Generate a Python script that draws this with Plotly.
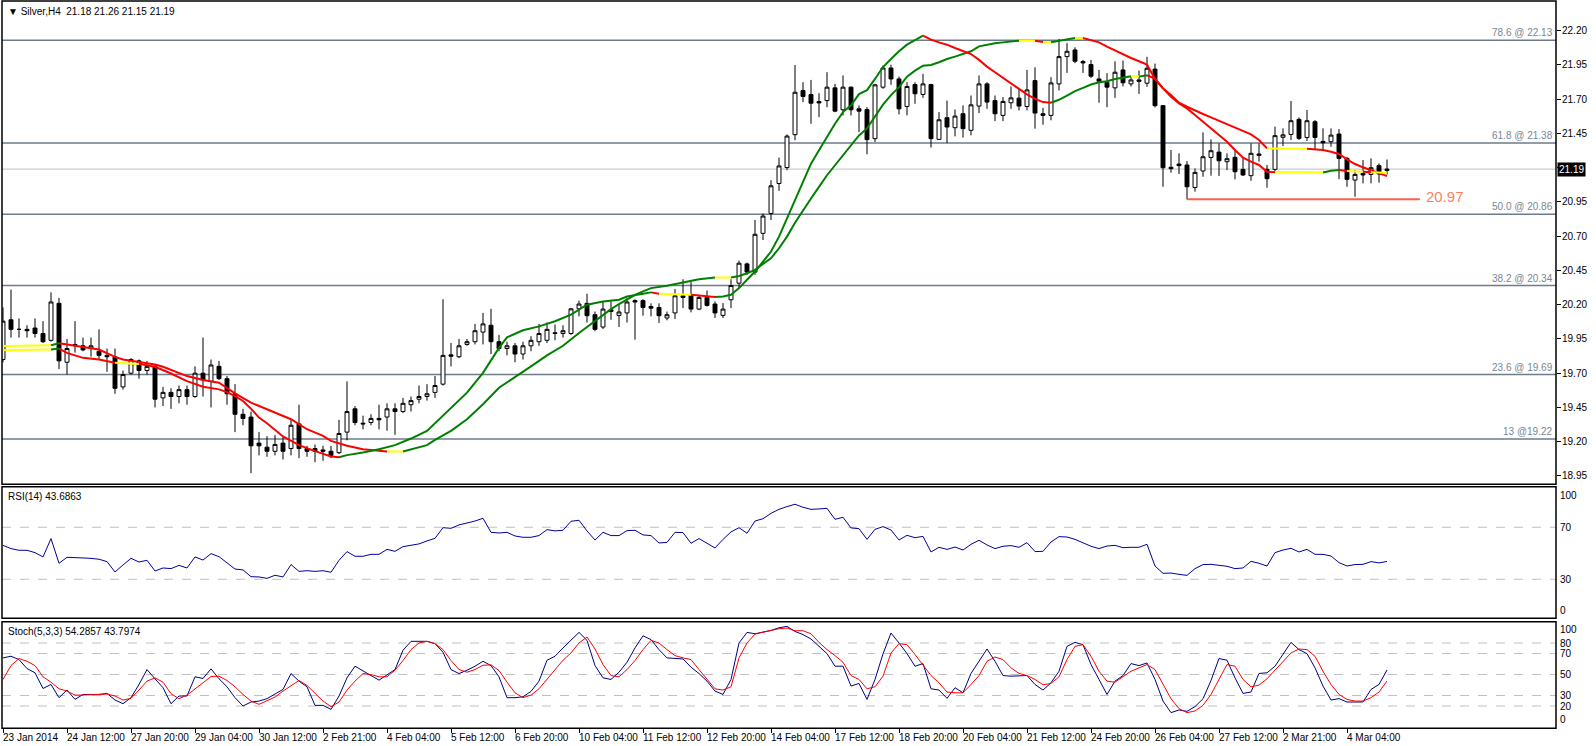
import plotly.graph_objects as go

W, H = 1596, 746

# ---------------- data ----------------
opens = [19.80,20.09,20.02,20.02,20.03,19.99,19.94,20.21,19.78,19.91,19.90,19.88,19.86,19.83,19.82,19.60,19.70,19.79,19.72,19.75,
         19.52,19.56,19.53,19.58,19.53,19.70,19.64,19.75,19.66,19.55,19.40,19.38,19.19,19.16,19.13,19.19,19.15,19.33,19.15,19.15,
         19.14,19.13,19.12,19.27,19.44,19.335,19.34,19.37,19.38,19.44,19.42,19.47,19.51,19.53,19.56,19.62,19.834,19.82,19.91,19.93,
         20.00,20.05,19.93,19.88,19.90,19.84,19.90,19.93,19.94,19.995,19.99,19.99,20.17,20.21,20.127,20.037,20.163,20.122,20.14,20.23,
         20.23,20.187,20.18,20.103,20.14,20.265,20.27,20.168,20.255,20.205,20.122,20.236,20.357,20.498,20.438,20.721,20.866,21.085,21.201,21.441,
         21.763,21.734,21.683,21.69,21.783,21.623,21.788,21.63,21.625,21.412,21.788,21.928,21.848,21.647,21.807,21.735,21.807,21.407,21.565,21.492,
         21.594,21.473,21.65,21.812,21.69,21.582,21.674,21.708,21.647,21.836,21.594,21.582,21.812,22.011,22.06,21.975,21.953,21.848,21.824,21.783,
         21.914,21.812,21.841,21.817,21.92,21.653,21.203,21.227,21.22,21.056,21.176,21.275,21.314,21.244,21.276,21.188,21.142,21.29,21.188,21.188,
         21.422,21.443,21.553,21.421,21.536,21.392,21.39,21.446,21.268,21.11,21.159,21.151,21.215,21.18]
highs = [20.18,20.31,20.10,20.05,20.10,20.08,20.29,20.25,19.95,20.08,19.96,19.96,20.02,19.88,19.88,19.72,19.81,19.80,19.79,19.76,
         19.60,19.59,19.61,19.61,19.75,19.96,19.80,19.79,19.68,19.62,19.44,19.42,19.27,19.24,19.25,19.24,19.36,19.47,19.17,19.18,
         19.17,19.17,19.36,19.64,19.46,19.39,19.40,19.47,19.48,19.48,19.52,19.53,19.61,19.62,19.68,20.24,19.92,19.95,19.95,20.06,
         20.14,20.17,19.98,19.93,19.92,19.93,19.97,20.06,20.07,20.055,20.05,20.175,20.23,20.28,20.15,20.224,20.224,20.20,20.25,20.24,
         20.24,20.21,20.21,20.15,20.314,20.386,20.365,20.27,20.304,20.224,20.212,20.386,20.522,20.507,20.818,20.866,21.109,21.274,21.443,21.95,
         21.824,21.841,21.744,21.897,21.812,21.873,21.793,21.654,21.642,21.812,21.945,21.952,21.865,21.824,21.824,21.885,21.812,21.606,21.69,21.625,
         21.655,21.727,21.873,21.824,21.727,21.715,21.793,21.776,21.914,21.933,21.637,21.861,22.14,22.11,22.079,21.987,21.987,21.914,21.89,21.977,
         21.982,21.865,21.909,22.01,21.96,21.657,21.329,21.305,21.249,21.195,21.458,21.407,21.378,21.305,21.329,21.276,21.378,21.378,21.22,21.50,
         21.487,21.687,21.567,21.621,21.548,21.487,21.487,21.482,21.28,21.183,21.256,21.268,21.232,21.26]
lows = [19.78,19.96,19.96,19.96,19.96,19.92,19.93,19.73,19.69,19.85,19.86,19.82,19.80,19.71,19.55,19.58,19.69,19.66,19.69,19.45,
        19.46,19.44,19.48,19.47,19.52,19.53,19.45,19.65,19.47,19.27,19.32,18.97,19.10,19.09,19.10,19.07,19.10,19.08,19.09,19.05,
        19.06,19.08,19.11,19.21,19.32,19.29,19.32,19.29,19.28,19.25,19.41,19.42,19.48,19.50,19.52,19.61,19.75,19.81,19.90,19.91,
        19.91,19.84,19.86,19.83,19.78,19.80,19.86,19.90,19.92,19.94,19.96,19.98,20.115,20.07,20.006,20.023,20.09,20.037,20.07,19.945,
        20.12,20.115,20.067,20.086,20.095,20.175,20.144,20.16,20.187,20.103,20.103,20.175,20.32,20.418,20.418,20.672,20.818,21.031,21.182,21.40,
        21.679,21.521,21.569,21.642,21.606,21.581,21.581,21.46,21.298,21.388,21.776,21.805,21.589,21.582,21.667,21.71,21.347,21.405,21.38,21.429,
        21.42,21.436,21.599,21.63,21.54,21.54,21.63,21.618,21.618,21.485,21.514,21.546,21.764,21.892,21.963,21.892,21.856,21.674,21.642,21.71,
        21.793,21.793,21.739,21.79,21.64,21.061,21.164,21.154,20.969,21.025,21.134,21.142,21.139,21.183,21.115,21.139,21.105,21.244,21.054,21.171,
        21.358,21.402,21.402,21.395,21.329,21.329,21.353,21.117,21.061,20.988,21.086,21.086,21.091,21.15]
closes = [20.08,20.02,20.02,20.01,19.99,19.93,20.22,19.79,19.88,19.90,19.87,19.90,19.83,19.82,19.59,19.69,19.80,19.72,19.75,19.51,
          19.56,19.53,19.58,19.53,19.70,19.65,19.76,19.66,19.55,19.40,19.37,19.17,19.17,19.13,19.18,19.13,19.32,19.15,19.13,19.13,
          19.13,19.10,19.26,19.42,19.34,19.33,19.37,19.36,19.44,19.42,19.48,19.50,19.53,19.55,19.61,19.83,19.824,19.90,19.93,20.01,
          20.06,19.93,19.88,19.90,19.84,19.90,19.94,19.99,20.02,19.99,20.01,20.17,20.205,20.12,20.02,20.168,20.15,20.147,20.22,20.22,
          20.18,20.175,20.12,20.127,20.265,20.253,20.168,20.253,20.195,20.14,20.168,20.34,20.503,20.438,20.714,20.847,21.068,21.213,21.431,21.751,
          21.72,21.671,21.673,21.788,21.613,21.788,21.623,21.613,21.405,21.805,21.928,21.848,21.63,21.793,21.74,21.812,21.412,21.55,21.497,21.577,
          21.485,21.659,21.812,21.679,21.594,21.684,21.71,21.65,21.768,21.599,21.582,21.819,22.011,22.05,21.977,21.965,21.868,21.831,21.788,21.897,
          21.82,21.841,21.831,21.926,21.653,21.20,21.193,21.215,21.061,21.166,21.28,21.324,21.251,21.266,21.171,21.147,21.305,21.30,21.12,21.434,
          21.44,21.543,21.414,21.543,21.421,21.382,21.438,21.268,21.115,21.151,21.147,21.20,21.154,21.19]

fast_bars = [0,6,7,8,10,12,14,17,19,21,23,25,27,28,29,30,31,32,33,35,37,39,41,42,43,45,47,49,51,53,54,56,58,60,62,
             63,65,67,69,71,72,73,75,77,78,79,80,81,82,83,84,85,86,87,88,89,90,91,92,93,94,95,96,97,98,99,100,101,102,103,104,105,106,
             107,108,109,110,111,112,113,114,115,116,117,118,119,120,121,122,123,124,125,126,127,128,129,130,131,132,133,134,135,136,137,138,139,140,141,142,143,
             144,145,146,147,148,149,150,151,152,153,154,155,156,157,158,159,160,161,162,163,164,165,166,167,168,169,170,171,172,173]
fast_vals = [19.868,19.873,19.88,19.848,19.812,19.80,19.776,19.768,19.747,19.698,19.642,19.601,19.582,19.562,19.533,19.497,19.441,19.376,19.335,19.238,19.175,19.131,19.092,19.087,19.102,19.121,19.145,19.175,19.223,19.279,19.335,19.448,19.558,19.703,19.885,
             19.962,20.013,20.042,20.079,20.127,20.163,20.20,20.224,20.236,20.26,20.272,20.28,20.29,20.28,20.277,20.277,20.274,20.272,20.267,20.26,20.256,20.26,20.272,20.321,20.382,20.442,20.515,20.588,20.697,20.83,20.963,21.109,21.23,21.327,21.424,21.521,21.606,21.655,
             21.737,21.766,21.848,21.935,21.994,22.05,22.098,22.132,22.164,22.135,22.115,22.098,22.074,22.05,22.03,21.987,21.938,21.897,21.856,21.812,21.776,21.735,21.703,21.679,21.674,21.696,21.727,21.759,21.783,21.807,21.824,21.831,21.848,21.86,21.868,21.865,21.875,
             21.85,21.779,21.718,21.67,21.633,21.585,21.536,21.487,21.439,21.39,21.329,21.273,21.244,21.22,21.171,21.166,21.164,21.166,21.166,21.164,21.164,21.165,21.178,21.183,21.176,21.174,21.171,21.166,21.164,21.164]

slow_bars = [0,6,7,8,12,14,15,19,20,23,25,27,29,31,34,36,38,40,41,43,45,48,50,51,53,54,56,58,60,62,64,66,68,70,
             72,73,74,75,76,77,78,79,80,81,83,85,87,89,91,92,93,94,95,96,97,98,99,100,101,102,103,104,105,106,
             107,108,109,110,111,112,113,114,115,116,117,118,119,120,121,122,123,124,125,126,127,128,129,130,131,132,133,134,135,136,137,138,139,140,141,142,143,
             144,145,146,147,148,149,150,151,152,153,154,155,156,157,158,159,160,161,162,163,164,165,166,167,168,169,170,171,172,173]
slow_vals = [19.899,19.904,19.919,19.909,19.873,19.819,19.80,19.764,19.747,19.679,19.65,19.63,19.553,19.485,19.412,19.364,19.291,19.242,19.206,19.17,19.145,19.128,19.128,19.145,19.175,19.213,19.279,19.364,19.473,19.594,19.67,19.75,19.83,19.90,
             19.994,20.037,20.083,20.127,20.168,20.205,20.241,20.272,20.297,20.321,20.338,20.362,20.386,20.398,20.398,20.41,20.43,20.454,20.498,20.539,20.612,20.697,20.798,20.891,20.975,21.06,21.145,21.218,21.291,21.366,
             21.436,21.487,21.578,21.66,21.73,21.788,21.865,21.909,21.945,21.95,21.97,21.994,22.011,22.03,22.05,22.086,22.098,22.108,22.115,22.122,22.127,22.128,22.127,22.118,22.116,22.127,22.139,22.147,22.147,22.132,22.115,22.084,22.055,22.026,22.001,21.977,21.953,
             21.847,21.779,21.73,21.675,21.645,21.616,21.592,21.567,21.543,21.519,21.492,21.468,21.443,21.402,21.341,21.339,21.338,21.339,21.338,21.338,21.334,21.329,21.317,21.30,21.261,21.227,21.203,21.183,21.159,21.139]

rsi = [56.1,53.6,52.3,52.3,50.5,47.2,61.3,42.3,46.9,46.9,46.4,46.1,45.4,43.6,35.6,41.0,46.1,43.3,44.6,36.4,
       38.7,38.2,40.7,38.7,47.2,44.8,49.7,47.4,42.3,37.9,37.2,32.0,31.8,30.7,33.1,31.8,41.3,36.1,36.6,36.1,
       36.6,35.4,44.6,51.3,47.7,47.7,49.2,49.2,53.0,51.5,55.1,56.4,57.2,59.5,61.5,69.7,69.2,71.8,73.1,74.8,
       76.9,66.1,65.6,66.1,63.3,62.3,62.3,63.6,68.2,67.2,67.7,74.6,75.4,67.2,60.2,66.1,63.6,63.6,67.4,67.7,
       64.1,63.6,57.9,58.4,66.1,65.9,57.7,61.3,57.7,54.1,60.7,66.4,69.7,65.4,74.8,76.6,80.7,83.8,85.9,87.7,
       85.4,83.8,84.1,84.6,76.1,77.7,69.5,68.9,60.7,68.4,70.5,67.9,60.2,63.8,62.0,63.0,51.0,54.6,53.0,54.8,
       52.5,56.9,60.0,56.4,53.6,55.4,55.9,54.6,58.2,51.3,51.5,58.7,62.8,62.5,60.7,58.2,55.4,53.6,55.6,56.1,
       54.3,54.6,54.6,56.9,40.2,34.6,34.8,33.8,33.0,38.2,41.3,41.5,40.7,40.0,38.2,38.7,43.8,42.3,40.2,50.5,
       52.5,53.8,51.0,53.0,49.2,49.2,47.9,42.8,40.2,41.3,41.5,43.6,42.6,43.7]

stoch_k = [65.8,67.4,64.2,55.7,51.6,36.7,40.5,27.9,35.2,26.3,31.0,31.0,31.0,32.0,25.7,22.2,27.9,40.5,54.7,45.9,
           37.4,22.2,29.5,29.5,47.8,46.2,55.4,45.9,38.3,27.9,20.0,23.8,24.7,27.0,31.0,35.8,50.9,43.7,38.3,20.6,
           20.6,16.8,29.5,46.8,57.9,53.8,49.0,44.6,49.7,54.7,73.1,81.6,81.6,81.6,79.4,71.2,54.7,50.9,54.1,57.9,
           62.6,58.5,47.8,27.9,27.9,28.8,33.9,43.7,63.6,67.4,75.3,83.2,90.1,82.5,58.5,46.8,45.3,52.2,61.7,75.3,
           86.9,83.2,73.7,65.8,65.2,64.8,57.0,50.9,43.7,34.2,31.0,45.3,80.0,90.1,88.8,90.1,92.0,94.5,95.8,91.0,
           88.0,83.8,76.8,69.9,57.9,57.9,39.0,41.5,26.3,45.3,69.6,89.5,80.0,69.9,57.9,60.4,36.4,35.2,27.3,37.4,
           32.6,51.0,62.6,74.3,62.6,49.0,48.4,49.0,49.0,40.5,35.2,42.1,53.1,76.8,80.6,78.4,59.5,45.3,31.0,43.7,
           49.0,60.4,58.5,61.0,45.3,24.7,13.7,16.2,14.9,19.4,26.9,44.3,65.2,63.6,46.8,32.0,33.3,51.0,51.6,57.9,
           69.9,80.6,73.7,69.9,56.3,39.0,25.7,27.0,23.8,23.8,23.8,35.8,40.5,54.3]
stoch_d = [45.3,58.5,65.2,62.6,58.5,47.8,42.7,36.4,34.2,30.4,30.4,31.0,31.0,31.4,29.5,25.7,27.3,35.2,43.7,46.8,
           42.7,31.7,27.0,30.4,36.7,42.1,48.1,48.4,44.3,38.3,31.0,24.7,21.6,24.7,28.5,34.2,39.6,44.3,39.6,31.7,
           24.7,19.4,23.8,35.2,43.7,50.9,50.0,47.8,47.8,54.1,63.3,73.7,80.0,81.6,79.4,73.7,63.3,54.7,52.2,54.7,
           58.8,59.2,53.8,42.7,32.6,27.9,30.4,36.4,45.3,54.7,63.6,70.5,80.0,85.7,74.3,59.5,49.0,47.8,54.7,63.3,
           73.7,82.5,80.0,73.7,68.0,65.8,64.2,54.7,45.3,36.4,35.2,38.3,65.8,80.0,88.5,90.1,92.0,93.6,94.2,91.7,
           91.7,88.8,80.6,73.7,68.0,61.7,49.0,45.3,36.4,38.3,48.4,70.5,79.4,78.4,69.0,59.5,49.0,42.1,33.3,32.6,
           32.6,40.5,49.0,62.6,66.7,64.2,56.3,51.0,49.0,45.3,40.2,41.5,47.8,64.2,76.8,78.4,67.4,53.1,43.7,42.7,
           47.8,53.1,56.3,59.5,54.7,40.5,26.9,17.5,13.7,15.3,20.6,31.0,45.9,59.5,57.9,45.3,38.3,39.9,45.9,54.1,
           62.6,70.5,74.3,73.7,67.4,53.1,40.5,31.0,26.3,24.7,24.7,27.9,33.3,43.8]

price_ticks = [22.20,21.95,21.70,21.45,21.20,20.95,20.70,20.45,20.20,19.95,19.70,19.45,19.20,18.95]
price_labels = ["22.20","21.95","21.70","21.45","","20.95","20.70","20.45","20.20","19.95","19.70","19.45","19.20","18.95"]
fib_levels = [22.13,21.38,20.86,20.34,19.69,19.22]
fib_texts = ["78.6 @ 22.13","61.8 @ 21.38","50.0 @ 20.86","38.2 @ 20.34","23.6 @ 19.69","13 @19.22"]
last_price = 21.19
support_level = 20.97
support_start, support_end = 148, 177.1
rsi_levels = [70, 30]
rsi_labels = [100, 70, 30, 0]
stoch_levels = [80, 70, 50, 30, 20]
stoch_labels = [100, 80, 70, 50, 30, 20, 0]
time_labels = ["23 Jan 2014","24 Jan 12:00","27 Jan 20:00","29 Jan 04:00","30 Jan 12:00","2 Feb 21:00","4 Feb 04:00",
               "5 Feb 12:00","6 Feb 20:00","10 Feb 04:00","11 Feb 12:00","12 Feb 20:00","14 Feb 04:00","17 Feb 12:00",
               "18 Feb 20:00","20 Feb 04:00","21 Feb 12:00","24 Feb 20:00","26 Feb 04:00","27 Feb 12:00","2 Mar 21:00","4 Mar 04:00"]
label_step = 8

# ---------------- helpers ----------------
def px_to_paper(y):
    return 1 - y / H

FONT = "Liberation Sans, Arial, sans-serif"
x0p, x1p = 2 / W, 1556 / W
main_dom = [px_to_paper(484.3), px_to_paper(1)]
rsi_dom = [px_to_paper(618.3), px_to_paper(486.7)]
sto_dom = [px_to_paper(728.3), px_to_paper(621.7)]

bars = list(range(len(closes)))
fig = go.Figure()

fig.add_trace(go.Candlestick(
    x=bars, open=opens, high=highs, low=lows, close=closes,
    increasing=dict(line=dict(color="black", width=1), fillcolor="white"),
    decreasing=dict(line=dict(color="black", width=1), fillcolor="black"),
    whiskerwidth=0, hoverinfo="skip", showlegend=False, xaxis="x", yaxis="y"))

GREEN, RED, YELLOW = "#008000", "#FF0000", "#FFFF00"

def slope_color(x0, y0, x1, y1):
    s = (y1 - y0) / (x1 - x0)
    if s > 0.004:
        return GREEN
    if s < -0.004:
        return RED
    return YELLOW

def add_colored_line(xs, ys):
    runs = []
    for k in range(len(xs) - 1):
        c = slope_color(xs[k], ys[k], xs[k + 1], ys[k + 1])
        if runs and runs[-1][0] == c:
            runs[-1][1].append(k + 1)
        else:
            runs.append([c, [k, k + 1]])
    for c, idx in runs:
        fig.add_trace(go.Scatter(x=[xs[j] for j in idx], y=[ys[j] for j in idx], mode="lines",
                                 line=dict(color=c, width=2), hoverinfo="skip", showlegend=False,
                                 xaxis="x", yaxis="y"))

add_colored_line(slow_bars, slow_vals)
add_colored_line(fast_bars, fast_vals)

fig.add_trace(go.Scatter(x=[support_start, support_end], y=[support_level, support_level], mode="lines",
                         line=dict(color="#FF5F46", width=2), hoverinfo="skip", showlegend=False,
                         xaxis="x", yaxis="y"))

fig.add_trace(go.Scatter(x=bars, y=rsi, mode="lines", line=dict(color="#00009C", width=1),
                         hoverinfo="skip", showlegend=False, xaxis="x", yaxis="y2"))
fig.add_trace(go.Scatter(x=bars, y=stoch_k, mode="lines", line=dict(color="#000080", width=1),
                         hoverinfo="skip", showlegend=False, xaxis="x", yaxis="y3"))
fig.add_trace(go.Scatter(x=bars, y=stoch_d, mode="lines", line=dict(color="#FF0000", width=1),
                         hoverinfo="skip", showlegend=False, xaxis="x", yaxis="y3"))

shapes = []
for lv in fib_levels:
    shapes.append(dict(type="line", xref="paper", yref="y", x0=x0p, x1=x1p, y0=lv, y1=lv,
                       line=dict(color="#6E7B8B", width=1.5), layer="below"))
shapes.append(dict(type="line", xref="paper", yref="y", x0=x0p, x1=x1p, y0=last_price, y1=last_price,
                   line=dict(color="#C0C0C0", width=1), layer="below"))
for lv in rsi_levels:
    shapes.append(dict(type="line", xref="paper", yref="y2", x0=x0p, x1=x1p, y0=lv, y1=lv,
                       line=dict(color="#C0C0C0", width=1, dash="dash"), layer="below"))
for lv in stoch_levels:
    shapes.append(dict(type="line", xref="paper", yref="y3", x0=x0p, x1=x1p, y0=lv, y1=lv,
                       line=dict(color="#C0C0C0", width=1, dash="dash"), layer="below"))
for dom in (main_dom, rsi_dom, sto_dom):
    shapes.append(dict(type="rect", xref="paper", yref="paper", x0=x0p, x1=x1p, y0=dom[0], y1=dom[1],
                       line=dict(color="black", width=1.5), fillcolor="rgba(0,0,0,0)", layer="above"))

ann = []
tf = dict(family=FONT, size=10, color="black")
ann.append(dict(xref="paper", yref="paper", x=6 / W, y=px_to_paper(11), xanchor="left", yanchor="middle",
                text="▼ Silver,H4\u00a0\u00a021.18 21.26 21.15 21.19", showarrow=False, font=tf))
ann.append(dict(xref="paper", yref="paper", x=6 / W, y=px_to_paper(496), xanchor="left", yanchor="middle",
                text="RSI(14) 43.6863", showarrow=False, font=tf))
ann.append(dict(xref="paper", yref="paper", x=6 / W, y=px_to_paper(631), xanchor="left", yanchor="middle",
                text="Stoch(5,3,3) 54.2857 43.7974", showarrow=False, font=tf))
for k, t in enumerate(time_labels):
    ann.append(dict(xref="x", yref="paper", x=k * label_step, y=px_to_paper(737), xanchor="left", yanchor="middle",
                    xshift=-2, text=t, showarrow=False, font=tf))
for lv, t in zip(fib_levels, fib_texts):
    ann.append(dict(xref="paper", yref="y", x=1555 / W, y=lv, xanchor="right", yanchor="bottom",
                    text=t, showarrow=False, font=dict(family=FONT, size=10, color="#7A8694")))
for v, t in zip(price_ticks, price_labels):
    if t:
        ann.append(dict(xref="paper", yref="y", x=1560 / W, y=v, xanchor="left", yanchor="middle",
                        text=t, showarrow=False, font=tf))
for v in rsi_labels:
    ya = "top" if v == 100 else ("bottom" if v == 0 else "middle")
    ann.append(dict(xref="paper", yref="y2", x=1558 / W, y=v, xanchor="left", yanchor=ya,
                    text=str(v), showarrow=False, font=tf))
for v in stoch_labels:
    ya = "top" if v == 100 else ("bottom" if v == 0 else "middle")
    ann.append(dict(xref="paper", yref="y3", x=1558 / W, y=v, xanchor="left", yanchor=ya,
                    text=str(v), showarrow=False, font=tf))
ann.append(dict(xref="paper", yref="y", x=1557 / W, y=last_price, xanchor="left", yanchor="middle",
                text="%.2f" % last_price, showarrow=False, bgcolor="black", borderpad=1,
                font=dict(family=FONT, size=10, color="white")))
ann.append(dict(xref="x", yref="y", x=support_end, y=support_level, xanchor="left", yanchor="middle",
                xshift=4, yshift=3, text="%.2f" % support_level, showarrow=False,
                font=dict(family=FONT, size=15, color="#FF7F5A")))

fig.update_layout(
    width=W, height=H, margin=dict(l=0, r=0, t=0, b=0),
    paper_bgcolor="white", plot_bgcolor="white", showlegend=False,
    shapes=shapes, annotations=ann,
    xaxis=dict(domain=[x0p, x1p], range=[-0.125, 194.125], anchor="y3", showgrid=False, zeroline=False,
               showline=False, tickvals=[k * label_step for k in range(len(time_labels))], ticks="outside",
               ticklen=4, tickcolor="black", showticklabels=False, rangeslider=dict(visible=False), fixedrange=True),
    yaxis=dict(domain=main_dom, range=[18.889, 22.417], side="right", anchor="x", showgrid=False, zeroline=False,
               tickvals=price_ticks, ticks="outside", ticklen=4, showticklabels=False,
               tickcolor="black", showline=False),
    yaxis2=dict(domain=rsi_dom, range=[0, 101.2], side="right", anchor="x", showgrid=False, zeroline=False,
                showticklabels=False, ticks=""),
    yaxis3=dict(domain=sto_dom, range=[-1.24, 100.29], side="right", anchor="x", showgrid=False, zeroline=False,
                showticklabels=False, ticks=""),
)

fig.write_html("out.html", config={"displayModeBar": False},
               post_script="document.body.style.margin='0';document.body.style.overflow='hidden';")
